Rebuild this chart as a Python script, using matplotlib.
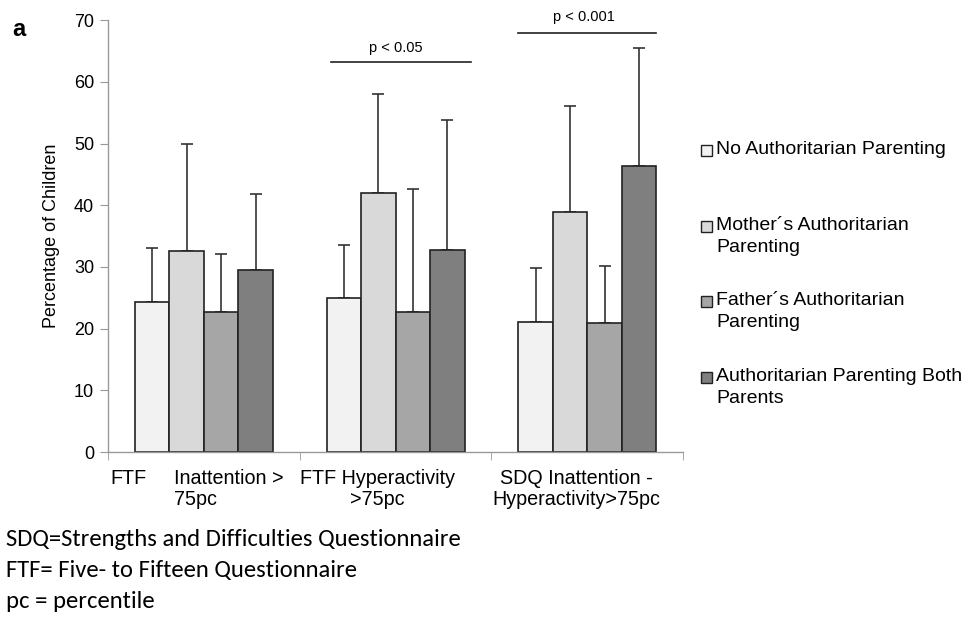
import matplotlib
matplotlib.use("Agg")
import matplotlib.pyplot as plt
import numpy as np
from matplotlib.patches import Rectangle
import matplotlib.transforms as mtrans

# ---- data ----
groups = ["FTF Inattention > 75pc", "FTF Hyperactivity >75pc", "SDQ Inattention - Hyperactivity>75pc"]
series = ["No Authoritarian Parenting", "Mother\u00b4s Authoritarian\nParenting",
          "Father\u00b4s Authoritarian\nParenting", "Authoritarian Parenting Both\nParents"]
no_auth = [24.3, 25.0, 21.0]
no_auth_err = [8.7, 8.6, 8.9]
mother = [32.6, 41.9, 38.9]
mother_err = [17.4, 16.1, 17.1]
father = [22.7, 22.7, 20.9]
father_err = [9.4, 19.9, 9.2]
both = [29.5, 32.7, 46.4]
both_err = [12.3, 21.1, 19.1]
yticks = [0, 10, 20, 30, 40, 50, 60, 70]
sig_labels = ["p < 0.05", "p < 0.001"]

values = [no_auth, mother, father, both]
errors = [no_auth_err, mother_err, father_err, both_err]
colors = ["#f2f2f2", "#d9d9d9", "#a6a6a6", "#7f7f7f"]

ARIAL = ["Liberation Sans", "DejaVu Sans"]

fig = plt.figure(figsize=(9.78, 6.17), dpi=100)
ax = fig.add_axes([0.1105, 0.2674, 0.588, 0.700])

x = np.arange(len(groups))
w = 0.18
offs = [-1.5 * w, -0.5 * w, 0.5 * w, 1.5 * w]
for vals, errs, c, o in zip(values, errors, colors, offs):
    ax.errorbar(x + o, vals, yerr=[np.zeros(len(vals)), errs], fmt="none",
                ecolor="#333333", elinewidth=1.2, capsize=4, capthick=1.2, zorder=1)
    ax.bar(x + o, vals, width=w, color=c, edgecolor="#222222", linewidth=1.2, zorder=2)

ax.set_xlim(-0.5, 2.5)
ax.set_ylim(0, 70)
ax.set_yticks(yticks)
ax.set_yticklabels([str(t) for t in yticks], family=ARIAL, fontsize=13)
ax.set_xticks([])
ax.set_xticks([-0.5, 0.5, 1.5, 2.5], minor=True)
ax.tick_params(axis="x", which="minor", length=6, color="#999999", direction="out")
ax.tick_params(axis="y", length=6, color="#999999", direction="out", pad=4)
for s in ["top", "right"]:
    ax.spines[s].set_visible(False)
for s in ["left", "bottom"]:
    ax.spines[s].set_color("#999999")
    ax.spines[s].set_linewidth(1.0)
ax.set_ylabel("Percentage of Children", family=ARIAL, fontsize=13, labelpad=10)

# group labels
tr = mtrans.blended_transform_factory(ax.transData, fig.transFigure)
ytop = 1 - 469 / 617
XF = 14.2
ax.text(-0.49, ytop, "FTF", transform=tr, family=ARIAL, fontsize=XF, ha="left", va="top")
ax.text(-0.155, ytop, "Inattention >\n75pc", transform=tr, family=ARIAL, fontsize=XF,
        ha="left", va="top", linespacing=1.15)
ax.text(0.905, ytop, "FTF Hyperactivity\n>75pc", transform=tr, family=ARIAL,
        fontsize=XF, ha="center", va="top", linespacing=1.15, multialignment="center")
ax.text(1.944, ytop, "SDQ Inattention -\nHyperactivity>75pc", transform=tr, family=ARIAL,
        fontsize=XF, ha="center", va="top", linespacing=1.15, multialignment="center")

# significance lines
ax.plot([0.665, 1.395], [63.2, 63.2], color="#222222", lw=1.2, clip_on=False)
ax.text(1.0, 65.5, sig_labels[0], family=ARIAL, fontsize=10.5, ha="center", va="center")
ax.plot([1.64, 2.36], [67.9, 67.9], color="#222222", lw=1.2, clip_on=False)
ax.text(1.98, 70.5, sig_labels[1], family=ARIAL, fontsize=10.5, ha="center", va="center", clip_on=False)

# legend (manual)
leg_y = [150, 226, 301, 377]
for lab, c, yy in zip(series, colors, leg_y):
    fy = 1 - yy / 617
    fig.patches.append(Rectangle((701 / 978, fy - 6 / 617), 11 / 978, 11 / 617,
                                 transform=fig.transFigure, facecolor=c,
                                 edgecolor="#222222", linewidth=1.0))
    fig.text(716 / 978, fy + 9 / 617, lab, family=ARIAL, fontsize=14, ha="left", va="top",
             linespacing=1.4)

# panel label
fig.text(12 / 978, 1 - 30 / 617, "a", family=ARIAL, fontsize=17, fontweight="bold",
         ha="left", va="center")

# footnotes
FOOT = ["Carlito", "Lato", "DejaVu Sans"]
notes = ["SDQ=Strengths and Difficulties Questionnaire", "FTF= Five- to Fifteen Questionnaire",
         "pc = percentile"]
for n, yy in zip(notes, [540, 571, 602]):
    fig.text(6 / 978, 1 - yy / 617, n, family=FOOT, fontsize=17.7, ha="left", va="center")

fig.savefig("out.png", dpi=100)
